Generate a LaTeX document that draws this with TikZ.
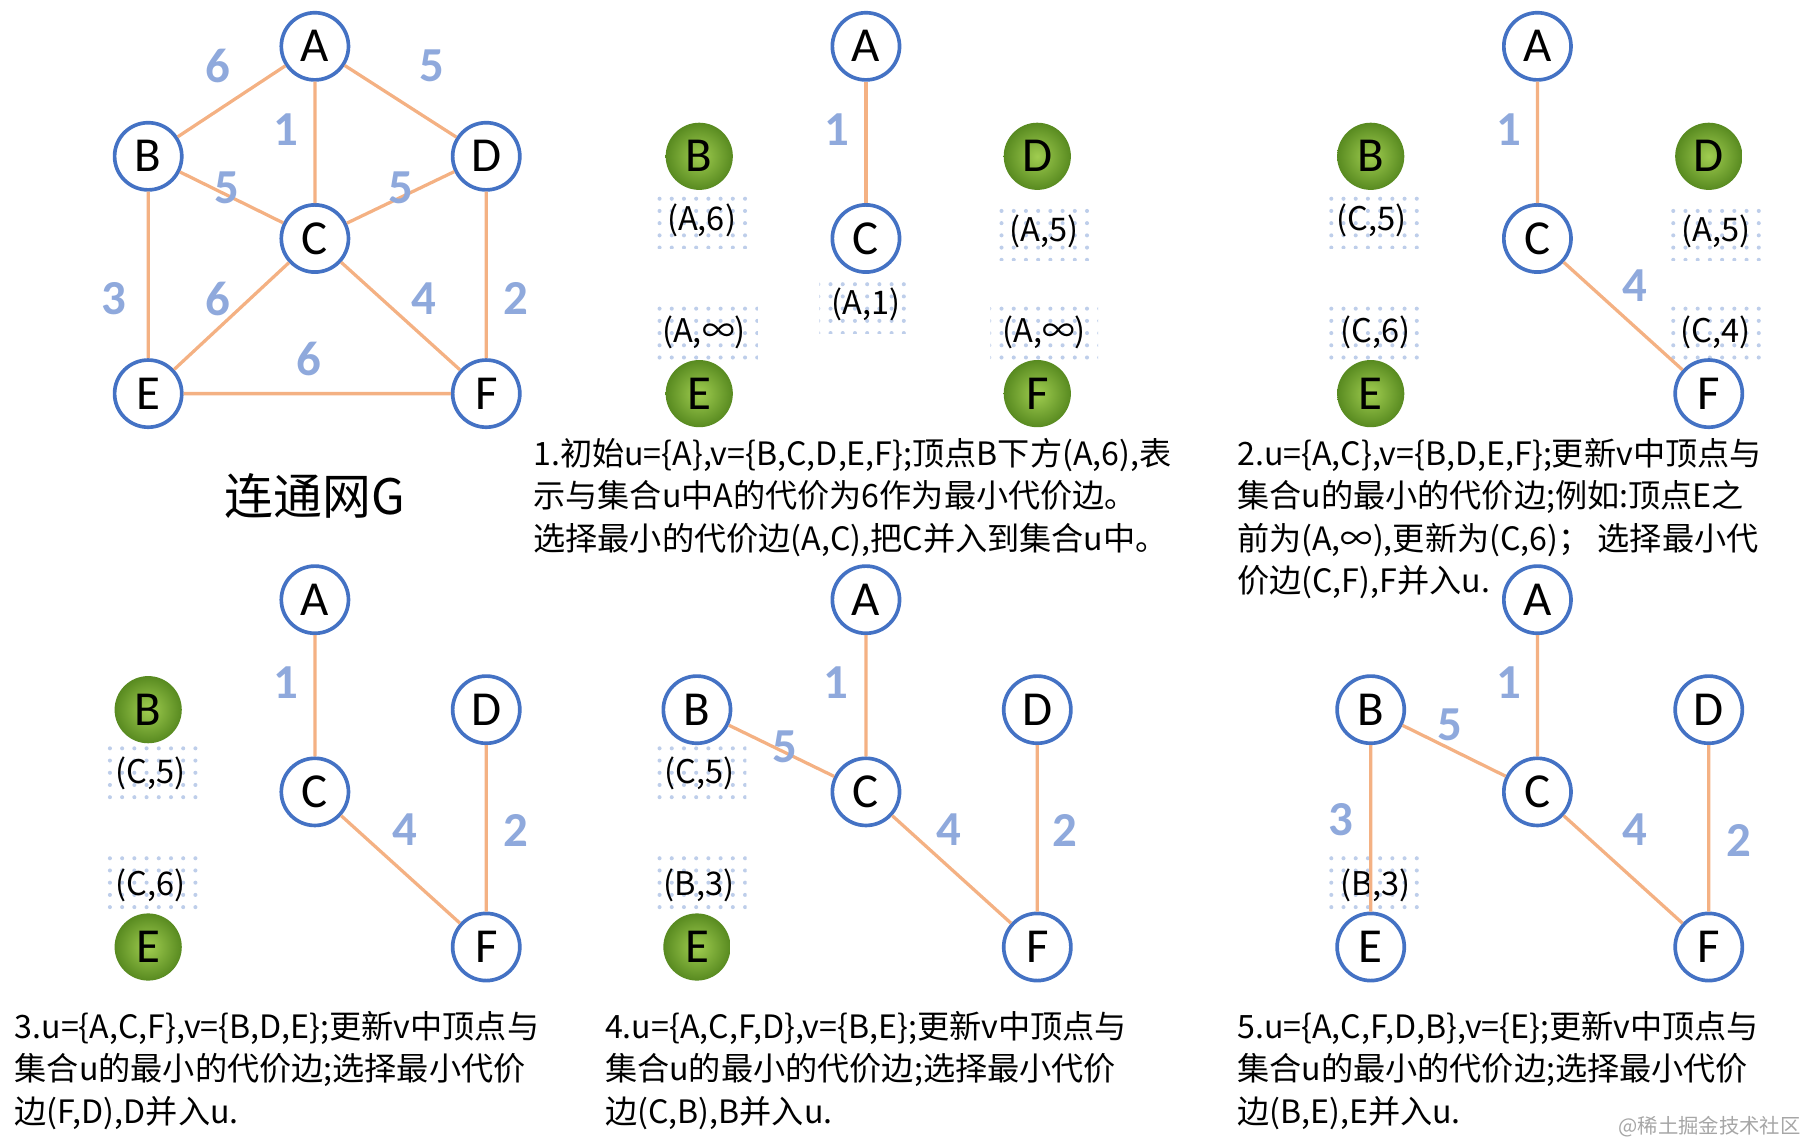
\documentclass[tikz,border=0pt]{standalone}
\usepackage{fontspec}
\setmainfont{Carlito}
\newfontfamily\cjk{Noto Sans CJK SC}
\usetikzlibrary{patterns}
\definecolor{edgeor}{HTML}{F4B183}
\definecolor{nodebl}{HTML}{4472C4}
\definecolor{wtbl}{HTML}{8FA9DC}
\begin{document}
\begin{tikzpicture}[x=0.01cm,y=-0.01cm,
  v/.style={circle,draw=nodebl,line width=0.9pt,fill=white,minimum size=0.58cm,inner sep=0pt,font=\fontsize{12}{12}\selectfont},
  g/.style={v,draw=none,shading=radial,inner color={rgb,255:red,160;green,205;blue,80},outer color={rgb,255:red,88;green,138;blue,32}},
  e/.style={draw=edgeor,line width=0.8pt},
  w/.style={text=wtbl,font=\bfseries\fontsize{12}{12}\selectfont},
  lb/.style={pattern=dots,pattern color=nodebl!35,inner sep=3pt,font=\cjk\fontsize{8}{8}\selectfont},
  captxt/.style={anchor=north west,align=left,inner sep=0pt,font=\cjk\fontsize{7.9}{10.4}\selectfont}]
\useasboundingbox (0,0) rectangle (1560,984);
% Graph G
\node[v] (A) at (272,40) {A};
\node[v] (B) at (128,135) {B};
\node[v] (C) at (272,206) {C};
\node[v] (D) at (420,135) {D};
\node[v] (E) at (128,340) {E};
\node[v] (F) at (420,340) {F};
\draw[e] (A)--(B) (A)--(D) (A)--(C) (B)--(C) (C)--(D) (B)--(E) (C)--(E) (C)--(F) (D)--(F) (E)--(F);
\node[w] (w1) at (188,57) {6};
\node[w] (w2) at (373,57) {5};
\node[w] (w3) at (247,112) {1};
\node[w] (w4) at (196,162) {5};
\node[w] (w5) at (346,162) {5};
\node[w] (w6) at (98,258) {3};
\node[w] (w7) at (188,258) {6};
\node[w] (w8) at (366,258) {4};
\node[w] (w9) at (446,258) {2};
\node[w] (w10) at (267,310) {6};
\node[font=\cjk\fontsize{12}{12}\selectfont] (tG) at (272,428) {连通网G};
% Panel 1
\node[lb] (l11) at (606,190) {(A,6)};
\node[lb] (l12) at (902,200) {(A,5)};
\node[lb] (l13) at (748,263) {(A,1)};
\node[lb] (l14) at (608,287) {(A,∞)};
\node[lb] (l15) at (902,287) {(A,∞)};
\node[v] (A1) at (748,40) {A};
\node[g] (B1) at (604,135) {B};
\node[v] (C1) at (748,206) {C};
\node[g] (D1) at (896,135) {D};
\node[g] (E1) at (604,340) {E};
\node[g] (F1) at (896,340) {F};
\draw[e] (A1)--(C1);
\node[w] (w11) at (723,112) {1};
\node[captxt] (c1) at (460,378) {1.初始u=\{A\},v=\{B,C,D,E,F\};顶点B下方(A,6),表\\示与集合u中A的代价为6作为最小代价边。\\选择最小的代价边(A,C),把C并入到集合u中。};
% Panel 2
\node[lb] (l21) at (1185,190) {(C,5)};
\node[lb] (l22) at (1482,200) {(A,5)};
\node[lb] (l23) at (1188,287) {(C,6)};
\node[lb] (l24) at (1482,287) {(C,4)};
\node[v] (A2) at (1328,40) {A};
\node[g] (B2) at (1184,135) {B};
\node[v] (C2) at (1328,206) {C};
\node[g] (D2) at (1476,135) {D};
\node[g] (E2) at (1184,340) {E};
\node[v] (F2) at (1476,340) {F};
\draw[e] (A2)--(C2) (C2)--(F2);
\node[w] (w21) at (1303,112) {1};
\node[w] (w22) at (1412,247) {4};
\node[captxt] (c2) at (1068,378) {2.u=\{A,C\},v=\{B,D,E,F\};更新v中顶点与\\集合u的最小的代价边;例如:顶点E之\\前为(A,∞),更新为(C,6)； 选择最小代\\价边(C,F),F并入u.};
% Panel 3
\node[lb] (l31) at (130,668) {(C,5)};
\node[lb] (l32) at (130,765) {(C,6)};
\node[v] (A3) at (272,518) {A};
\node[g] (B3) at (128,613) {B};
\node[v] (C3) at (272,684) {C};
\node[v] (D3) at (420,613) {D};
\node[g] (E3) at (128,818) {E};
\node[v] (F3) at (420,818) {F};
\draw[e] (A3)--(C3) (C3)--(F3) (D3)--(F3);
\node[w] (w31) at (247,590) {1};
\node[w] (w32) at (350,717) {4};
\node[w] (w33) at (446,717) {2};
\node[captxt] (c3) at (12,873) {3.u=\{A,C,F\},v=\{B,D,E\};更新v中顶点与\\集合u的最小的代价边;选择最小代价\\边(F,D),D并入u.};
% Panel 4
\node[lb] (l41) at (604,668) {(C,5)};
\node[lb] (l42) at (604,765) {(B,3)};
\node[v] (A4) at (748,518) {A};
\node[v] (B4) at (602,613) {B};
\node[v] (C4) at (748,684) {C};
\node[v] (D4) at (896,613) {D};
\node[g] (E4) at (602,818) {E};
\node[v] (F4) at (896,818) {F};
\draw[e] (A4)--(C4) (B4)--(C4) (C4)--(F4) (D4)--(F4);
\node[w] (w41) at (722,590) {1};
\node[w] (w42) at (678,645) {5};
\node[w] (w43) at (820,717) {4};
\node[w] (w44) at (920,717) {2};
\node[captxt] (c4) at (522,873) {4.u=\{A,C,F,D\},v=\{B,E\};更新v中顶点与\\集合u的最小的代价边;选择最小代价\\边(C,B),B并入u.};
% Panel 5
\node[lb] (l51) at (1188,765) {(B,3)};
\node[v] (A5) at (1328,518) {A};
\node[v] (B5) at (1184,613) {B};
\node[v] (C5) at (1328,684) {C};
\node[v] (D5) at (1476,613) {D};
\node[v] (E5) at (1184,818) {E};
\node[v] (F5) at (1476,818) {F};
\draw[e] (A5)--(C5) (B5)--(C5) (B5)--(E5) (C5)--(F5) (D5)--(F5);
\node[w] (w51) at (1303,590) {1};
\node[w] (w52) at (1252,626) {5};
\node[w] (w53) at (1158,708) {3};
\node[w] (w54) at (1412,717) {4};
\node[w] (w55) at (1502,726) {2};
\node[captxt] (c5) at (1068,873) {5.u=\{A,C,F,D,B\},v=\{E\};更新v中顶点与\\集合u的最小的代价边;选择最小代价\\边(B,E),E并入u.};
\node[anchor=east,inner sep=0pt,text=gray!70,font=\cjk\fontsize{5}{5}\selectfont] (wm) at (1556,973) {@稀土掘金技术社区};
\end{tikzpicture}
\end{document}
